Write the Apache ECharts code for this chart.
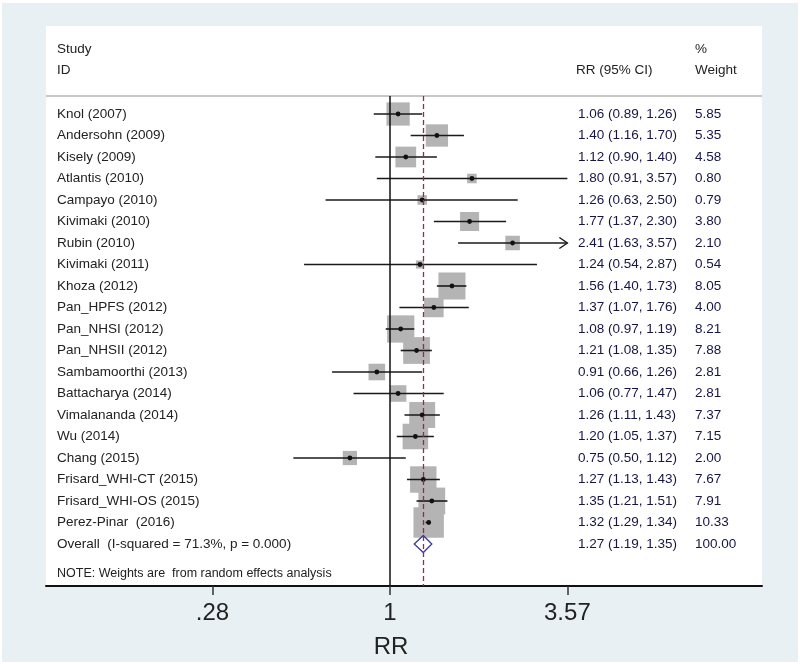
<!DOCTYPE html>
<html>
<head>
<meta charset="utf-8">
<script src="https://cdn.jsdelivr.net/npm/echarts@6/dist/echarts.min.js"></script>
<style>
html,body{margin:0;padding:0;background:#fff;}
#chart{width:800px;height:666px;}
</style>
</head>
<body>
<div id="chart"></div>
<script>
const studies = ['Knol (2007)','Andersohn (2009)','Kisely (2009)','Atlantis (2010)','Campayo (2010)','Kivimaki (2010)','Rubin (2010)','Kivimaki (2011)','Khoza (2012)','Pan_HPFS (2012)','Pan_NHSI (2012)','Pan_NHSII (2012)','Sambamoorthi (2013)','Battacharya (2014)','Vimalananda (2014)','Wu (2014)','Chang (2015)','Frisard_WHI-CT (2015)','Frisard_WHI-OS (2015)','Perez-Pinar  (2016)'];
const rr = [1.06,1.40,1.12,1.80,1.26,1.77,2.41,1.24,1.56,1.37,1.08,1.21,0.91,1.06,1.26,1.20,0.75,1.27,1.35,1.32];
const lo = [0.89,1.16,0.90,0.91,0.63,1.37,1.63,0.54,1.40,1.07,0.97,1.08,0.66,0.77,1.11,1.05,0.50,1.13,1.21,1.29];
const hi = [1.26,1.70,1.40,3.57,2.50,2.30,3.57,2.87,1.73,1.76,1.19,1.35,1.26,1.47,1.43,1.37,1.12,1.43,1.51,1.34];
const weights = [5.85,5.35,4.58,0.80,0.79,3.80,2.10,0.54,8.05,4.00,8.21,7.88,2.81,2.81,7.37,7.15,2.00,7.67,7.91,10.33];
const arrowRight = ['Rubin (2010)'];
const overallLabel = 'Overall  (I-squared = 71.3%, p = 0.000)';
const overallRR = 1.27, overallLo = 1.19, overallHi = 1.35, overallWeight = 100.00;
const xTickValues = [0.28, 1, 3.57];
const xTickLabels = ['.28', '1', '3.57'];
const noteText = 'NOTE: Weights are  from random effects analysis';

const FONT = '"Liberation Sans", Arial, sans-serif';
const LABEL_COLOR = '#222222';
const NUM_COLOR = '#161645';

const rows = studies.map((s, i) => [i, rr[i], lo[i], hi[i], weights[i]]);
const textRows = studies.map((s, i) => [i, s, rr[i].toFixed(2) + ' (' + lo[i].toFixed(2) + ', ' + hi[i].toFixed(2) + ')', weights[i].toFixed(2)]);
textRows.push([studies.length, overallLabel, overallRR.toFixed(2) + ' (' + overallLo.toFixed(2) + ', ' + overallHi.toFixed(2) + ')', overallWeight.toFixed(2)]);

const chart = echarts.init(document.getElementById('chart'), null, {renderer: 'canvas'});
const option = {
  animation: false,
  backgroundColor: '#ffffff',
  grid: {left: 46, right: 38, top: 96, bottom: 80, outerBoundsMode: 'none', containLabel: false},
  xAxis: {
    type: 'log', logBase: 10, min: 0.0848, max: 14.42,
    splitLine: {show: false},
    axisLine: {show: true, onZero: false, lineStyle: {color: '#111', width: 2}},
    axisTick: {show: true, customValues: xTickValues, length: 9, lineStyle: {color: '#333', width: 1.5}},
    axisLabel: {show: true, customValues: xTickValues, margin: 15, fontSize: 24, fontFamily: FONT, color: '#222',
      formatter: function (v) { const k = xTickValues.findIndex(t => Math.abs(t - v) < 1e-6); return k >= 0 ? xTickLabels[k] : ''; }},
    name: 'RR', nameLocation: 'middle', nameGap: 49,
    nameTextStyle: {fontSize: 24, fontFamily: FONT, color: '#222', padding: [0, 26, 0, 0]}
  },
  yAxis: {type: 'value', min: -0.837, max: 21.953, inverse: true, show: false},
  graphic: [
    {type: 'rect', z: -10, shape: {x: 2, y: 3, width: 796, height: 659}, style: {fill: '#e9f0f3'}},
    {type: 'rect', z: -9, shape: {x: 46, y: 26, width: 716, height: 560}, style: {fill: '#ffffff'}},
    {type: 'line', z: 5, shape: {x1: 46, y1: 96, x2: 762, y2: 96}, style: {stroke: '#b5b5b5', lineWidth: 1.5}},
    {type: 'text', z: 5, style: {text: 'Study', x: 57, y: 49, fill: LABEL_COLOR, font: '13.5px ' + FONT, verticalAlign: 'middle'}},
    {type: 'text', z: 5, style: {text: 'ID', x: 57, y: 70, fill: LABEL_COLOR, font: '13.5px ' + FONT, verticalAlign: 'middle'}},
    {type: 'text', z: 5, style: {text: 'RR (95% CI)', x: 576, y: 70, fill: LABEL_COLOR, font: '13.5px ' + FONT, verticalAlign: 'middle'}},
    {type: 'text', z: 5, style: {text: '%', x: 695, y: 49, fill: LABEL_COLOR, font: '13.5px ' + FONT, verticalAlign: 'middle'}},
    {type: 'text', z: 5, style: {text: 'Weight', x: 695, y: 70, fill: LABEL_COLOR, font: '13.5px ' + FONT, verticalAlign: 'middle'}},
    {type: 'text', z: 5, style: {text: noteText, x: 57, y: 574, fill: LABEL_COLOR, font: '12.5px ' + FONT, verticalAlign: 'middle'}}
  ],
  series: [
    {
      type: 'custom', name: 'boxes', z: 2,
      data: rows,
      renderItem: function (params, api) {
        const p = api.coord([api.value(1), api.value(0)]);
        const s = 1.5 + 9 * Math.sqrt(api.value(4));
        return {type: 'rect', shape: {x: p[0] - s / 2, y: p[1] - s / 2, width: s, height: s}, style: {fill: '#b4b4b4'}};
      }
    },
    {
      type: 'line', data: [], z: 3,
      markLine: {silent: true, symbol: ['none', 'none'], label: {show: false},
        lineStyle: {color: '#111', width: 1.5, type: 'solid'}, data: [{xAxis: 1}]}
    },
    {
      type: 'line', data: [], z: 3,
      markLine: {silent: true, symbol: ['none', 'none'], label: {show: false},
        lineStyle: {color: '#9a2a40', width: 1.3, type: [5, 3]}, data: [{xAxis: overallRR}]}
    },
    {
      type: 'custom', name: 'ci', z: 4,
      data: rows,
      renderItem: function (params, api) {
        const i = api.value(0);
        const a = api.coord([api.value(2), i]);
        const b = api.coord([api.value(3), i]);
        const c = api.coord([api.value(1), i]);
        const children = [
          {type: 'line', shape: {x1: a[0], y1: a[1], x2: b[0], y2: b[1]}, style: {stroke: '#1a1a1a', lineWidth: 1.6}},
          {type: 'circle', shape: {cx: c[0], cy: c[1], r: 2.4}, style: {fill: '#111'}}
        ];
        if (arrowRight.indexOf(studies[i]) >= 0) {
          children.push({type: 'polyline', shape: {points: [[b[0] - 8, b[1] - 5.5], [b[0], b[1]], [b[0] - 8, b[1] + 5.5]]}, style: {stroke: '#1a1a1a', lineWidth: 1.4, fill: null}});
        }
        return {type: 'group', children: children};
      }
    },
    {
      type: 'custom', name: 'overall', z: 4,
      data: [[studies.length, overallRR, overallLo, overallHi]],
      renderItem: function (params, api) {
        const i = api.value(0);
        const a = api.coord([api.value(2), i]);
        const b = api.coord([api.value(3), i]);
        const c = api.coord([api.value(1), i]);
        const h = 8.5;
        return {type: 'polygon', shape: {points: [[a[0], a[1]], [c[0], c[1] - h], [b[0], b[1]], [c[0], c[1] + h]]},
          style: {fill: 'rgba(255,255,255,0)', stroke: '#3b3b9c', lineWidth: 1.3}};
      }
    },
    {
      type: 'custom', name: 'texts', z: 6,
      data: textRows,
      renderItem: function (params, api) {
        const i = api.value(0);
        const y = api.coord([1, i])[1];
        const row = textRows[params.dataIndex];
        return {type: 'group', children: [
          {type: 'text', style: {text: row[1], x: 57, y: y, fill: LABEL_COLOR, font: '13.5px ' + FONT, verticalAlign: 'middle', align: 'left'}},
          {type: 'text', style: {text: row[2], x: 578, y: y, fill: NUM_COLOR, font: '13.5px ' + FONT, verticalAlign: 'middle', align: 'left'}},
          {type: 'text', style: {text: row[3], x: 695, y: y, fill: NUM_COLOR, font: '13.5px ' + FONT, verticalAlign: 'middle', align: 'left'}}
        ]};
      }
    }
  ]
};
chart.setOption(option);
</script>
</body>
</html>
